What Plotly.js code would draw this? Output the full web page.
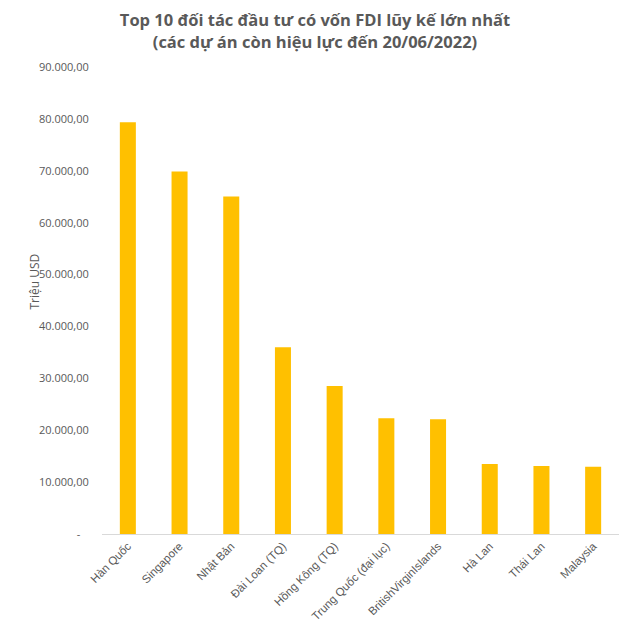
<!DOCTYPE html>
<html>
<head>
<meta charset="utf-8">
<script src="https://cdn.plot.ly/plotly-3.0.1.min.js"></script>
<style>html,body{margin:0;padding:0;background:#fff;}#chart{width:630px;height:628px;}</style>
</head>
<body>
<div id="chart"></div>
<script>
const categories = ["Hàn Quốc", "Singapore", "Nhật Bản", "Đài Loan (TQ)", "Hồng Kông (TQ)", "Trung Quốc (đại lục)", "BritishVirginIslands", "Hà Lan", "Thái Lan", "Malaysia"];
const values = [79370, 69840, 65020, 35980, 28520, 22290, 22100, 13480, 13090, 12960];
const yTickVals = [0, 10000, 20000, 30000, 40000, 50000, 60000, 70000, 80000, 90000];
const yTickText = ["-\u00a0\u00a0\u00a0", "10.000,00", "20.000,00", "30.000,00", "40.000,00", "50.000,00", "60.000,00", "70.000,00", "80.000,00", "90.000,00"];

const gray = "#595959";
const data = [{
  type: "bar",
  x: categories,
  y: values,
  marker: {color: "#FFC000"},
  hoverinfo: "x+y"
}];
const layout = {
  width: 630, height: 628,
  margin: {l: 102, r: 11, t: 67, b: 94},
  paper_bgcolor: "#fff", plot_bgcolor: "#fff",
  bargap: 0.69,
  showlegend: false,
  title: {
    text: "Top 10 đối tác đầu tư có vốn FDI lũy kế lớn nhất<br>(các dự án còn hiệu lực đến 20/06/2022)",
    font: {family: "Open Sans, Lato, sans-serif", size: 16.5, color: gray, weight: "bold"},
    x: 0.5, xanchor: "center", y: 0.958, yanchor: "top"
  },
  xaxis: {
    type: "category",
    tickangle: -45,
    tickfont: {family: "Liberation Sans, Arial, sans-serif", size: 11.5, color: gray},
    showgrid: false, zeroline: false,
    showline: true, linecolor: "#d9d9d9", linewidth: 1,
    ticks: ""
  },
  yaxis: {
    range: [0, 90000],
    tickvals: yTickVals, ticktext: yTickText,
    tickfont: {family: "Open Sans, Lato, sans-serif", size: 11, color: gray},
    showgrid: false, zeroline: false, showline: false,
    ticks: "outside", ticklen: 10, tickcolor: "rgba(0,0,0,0)"
  },
  annotations: [{
    text: "Triệu USD", textangle: -90,
    xref: "paper", yref: "paper", x: -0.13, y: 0.54,
    xanchor: "center", yanchor: "middle", showarrow: false,
    font: {family: "Open Sans, Lato, sans-serif", size: 12, color: gray}
  }]
};
Plotly.newPlot("chart", data, layout, {displayModeBar: false, staticPlot: true});
</script>
</body>
</html>
